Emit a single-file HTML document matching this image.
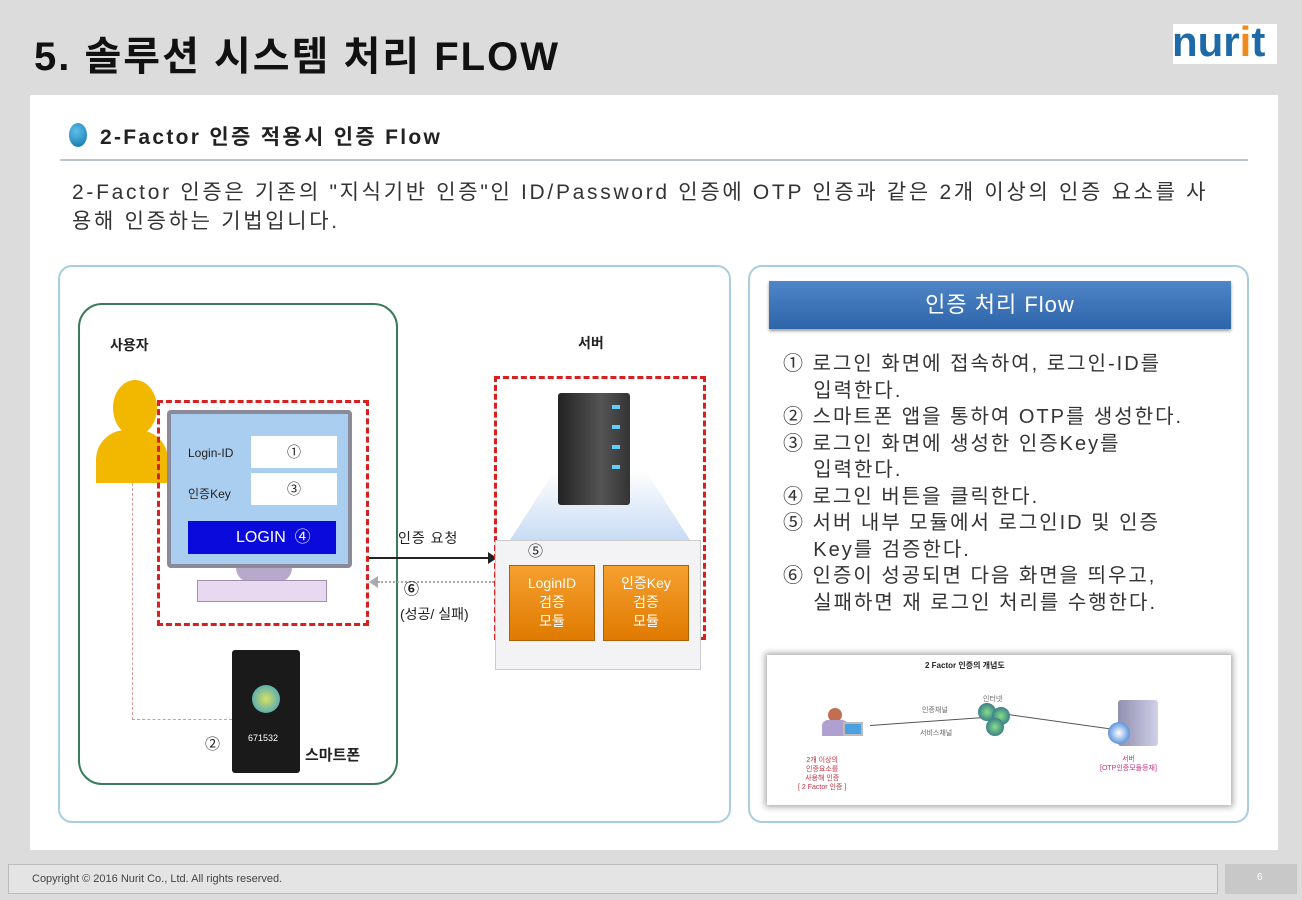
<!DOCTYPE html>
<html><head><meta charset="utf-8"><style>
*{margin:0;padding:0;box-sizing:border-box}
body{width:1302px;height:900px;background:#dcdcdc;position:relative;overflow:hidden;font-family:"Liberation Sans","Noto Sans CJK KR",sans-serif;color:#222}
.a{position:absolute}
.t{white-space:nowrap}
</style></head><body>
<div class="a t" style="left:34px;top:24px;font-size:40px;font-weight:bold;color:#111;letter-spacing:2px">5. 솔루션 시스템 처리 FLOW</div>
<div class="a" style="left:1173px;top:24px;width:104px;height:40px;background:#fff"></div>
<div class="a t" style="left:1172px;top:18px;font-size:42px;font-weight:bold;color:#1e6aa8;letter-spacing:0px">nur<span style="color:#f08a1c">i</span>t</div>
<div class="a" style="left:30px;top:95px;width:1248px;height:755px;background:#fff"></div>
<div class="a" style="left:69px;top:123px;width:18px;height:24px;border-radius:50%;background:radial-gradient(circle at 40% 35%,#5fc0e8,#0a6fa8)"></div>
<div class="a t" style="left:100px;top:121px;font-size:21px;font-weight:bold;color:#222;letter-spacing:2.3px">2-Factor 인증 적용시 인증 Flow</div>
<div class="a" style="left:60px;top:159px;width:1188px;height:2px;background:#b8c6cc"></div>
<div class="a t" style="left:72px;top:178px;font-size:21px;color:#333;line-height:29px;letter-spacing:2.7px">2-Factor 인증은 기존의 "지식기반 인증"인 ID/Password 인증에 OTP 인증과 같은 2개 이상의 인증 요소를 사<br>용해 인증하는 기법입니다.</div>

<div class="a" style="left:58px;top:265px;width:673px;height:558px;border:2px solid #a9cde0;border-radius:14px"></div>
<div class="a" style="left:748px;top:265px;width:501px;height:558px;border:2px solid #a9cde0;border-radius:14px"></div>

<div class="a" style="left:78px;top:303px;width:320px;height:482px;border:2px solid #3b7a5a;border-radius:24px"></div>
<div class="a t" style="left:110px;top:335px;font-size:14px;font-weight:bold">사용자</div>
<div class="a t" style="left:578px;top:333px;font-size:14px;font-weight:bold">서버</div>
<div class="a" style="left:113px;top:380px;width:44px;height:56px;border-radius:50%;background:#f2b800"></div>
<div class="a" style="left:96px;top:430px;width:72px;height:53px;border-radius:30px 30px 0 0;background:#f2b800"></div>
<div class="a" style="left:132px;top:483px;width:1px;height:237px;border-left:1px dashed #d99"></div>
<div class="a" style="left:132px;top:719px;width:100px;height:1px;border-top:1px dashed #d99"></div>
<div class="a" style="left:157px;top:400px;width:212px;height:226px;border:3px dashed #d82020"></div>
<div class="a" style="left:167px;top:410px;width:185px;height:158px;background:#aacef0;border:4px solid #8a8a9a;border-radius:4px"></div>
<div class="a t" style="left:188px;top:446px;font-size:12px">Login-ID</div>
<div class="a" style="left:251px;top:436px;width:86px;height:32px;background:#fff;text-align:center;line-height:32px;font-size:14px">①</div>
<div class="a t" style="left:188px;top:485px;font-size:12px">인증Key</div>
<div class="a" style="left:251px;top:473px;width:86px;height:32px;background:#fff;text-align:center;line-height:32px;font-size:14px">③</div>
<div class="a t" style="left:188px;top:521px;width:148px;height:33px;background:#0a0adc;color:#fff;font-size:16px;line-height:33px;padding-left:48px">LOGIN&nbsp;&nbsp;④</div>
<div class="a" style="left:236px;top:568px;width:56px;height:14px;background:#b8a8cc;border-radius:0 0 30px 30px"></div>
<div class="a" style="left:197px;top:580px;width:130px;height:22px;background:#e8d8f0;border:1px solid #a090b0"></div>
<div class="a" style="left:232px;top:650px;width:68px;height:123px;background:#1a1a1a;border-radius:3px"></div>
<div class="a" style="left:252px;top:685px;width:28px;height:28px;border-radius:50%;background:radial-gradient(#d8e060,#2a9ad0)"></div>
<div class="a t" style="left:248px;top:733px;font-size:9px;color:#fff">671532</div>
<div class="a t" style="left:205px;top:733px;font-size:15px">②</div>
<div class="a t" style="left:305px;top:744px;font-size:15px;font-weight:bold">스마트폰</div>
<div class="a" style="left:369px;top:557px;width:123px;height:2px;background:#222"></div>
<div class="a" style="left:488px;top:552px;width:0;height:0;border-left:9px solid #222;border-top:6px solid transparent;border-bottom:6px solid transparent"></div>
<div class="a t" style="left:398px;top:528px;font-size:14px;letter-spacing:1px">인증 요청</div>
<div class="a" style="left:378px;top:581px;width:116px;height:0;border-top:2px dotted #aaa"></div>
<div class="a" style="left:369px;top:576px;width:0;height:0;border-right:9px solid #aaa;border-top:6px solid transparent;border-bottom:6px solid transparent"></div>
<div class="a t" style="left:404px;top:578px;font-size:15px;font-weight:bold">⑥</div>
<div class="a t" style="left:400px;top:604px;font-size:14px">(성공/ 실패)</div>
<div class="a" style="left:494px;top:376px;width:212px;height:264px;border:3px dashed #d82020"></div>
<div class="a" style="left:510px;top:470px;width:180px;height:70px;background:linear-gradient(#fff,#c8dcf4);clip-path:polygon(25% 0,75% 0,100% 100%,0 100%)"></div>
<div class="a" style="left:558px;top:393px;width:72px;height:112px;background:linear-gradient(90deg,#222,#555 60%,#333);border-radius:3px"></div>
<div class="a" style="left:612px;top:405px;width:8px;height:4px;background:#6cf"></div>
<div class="a" style="left:612px;top:425px;width:8px;height:4px;background:#6cf"></div>
<div class="a" style="left:612px;top:445px;width:8px;height:4px;background:#6cf"></div>
<div class="a" style="left:612px;top:465px;width:8px;height:4px;background:#6cf"></div>
<div class="a" style="left:495px;top:540px;width:206px;height:130px;background:#f3f3f5;border:1px solid #ccc"></div>
<div class="a t" style="left:528px;top:540px;font-size:15px">⑤</div>
<div class="a" style="left:509px;top:565px;width:86px;height:76px;background:linear-gradient(#f5a030,#e07a00);border:1px solid #b06000;color:#fff;font-size:14px;text-align:center;line-height:19px;padding-top:8px">LoginID<br>검증<br>모듈</div>
<div class="a" style="left:603px;top:565px;width:86px;height:76px;background:linear-gradient(#f5a030,#e07a00);border:1px solid #b06000;color:#fff;font-size:14px;text-align:center;line-height:19px;padding-top:8px">인증Key<br>검증<br>모듈</div>

<div class="a" style="left:769px;top:281px;width:462px;height:48px;background:linear-gradient(#4f86c8,#2e64a8);color:#fff;font-size:22px;text-align:center;line-height:48px;box-shadow:0 2px 3px #999;letter-spacing:1px">인증 처리 Flow</div>
<div class="a t" style="left:783px;top:351px;font-size:20px;line-height:26.5px;color:#333;letter-spacing:2px">① 로그인 화면에 접속하여, 로그인-ID를<br>&nbsp;&nbsp;&nbsp;&nbsp;입력한다.<br>② 스마트폰 앱을 통하여 OTP를 생성한다.<br>③ 로그인 화면에 생성한 인증Key를<br>&nbsp;&nbsp;&nbsp;&nbsp;입력한다.<br>④ 로그인 버튼을 클릭한다.<br>⑤ 서버 내부 모듈에서 로그인ID 및 인증<br>&nbsp;&nbsp;&nbsp;&nbsp;Key를 검증한다.<br>⑥ 인증이 성공되면 다음 화면을 띄우고,<br>&nbsp;&nbsp;&nbsp;&nbsp;실패하면 재 로그인 처리를 수행한다.</div>
<div class="a" style="left:767px;top:655px;width:464px;height:150px;background:#fff;box-shadow:0 0 6px 2px #aaa"></div>
<div class="a t" style="left:925px;top:660px;font-size:8px;font-weight:bold">2 Factor 인증의 개념도</div>
<div class="a" style="left:828px;top:708px;width:14px;height:14px;border-radius:50%;background:#c07050"></div>
<div class="a" style="left:822px;top:720px;width:26px;height:16px;background:#b0a0d0;border-radius:6px 6px 0 0"></div>
<div class="a" style="left:843px;top:722px;width:20px;height:14px;background:#4aa0e0;border:2px solid #bbb"></div>
<div class="a" style="left:870px;top:725px;width:120px;height:1px;background:#555;transform:rotate(-4deg);transform-origin:left"></div>
<div class="a" style="left:1008px;top:714px;width:104px;height:1px;background:#555;transform:rotate(8deg);transform-origin:left"></div>
<div class="a" style="left:978px;top:703px;width:18px;height:18px;border-radius:50%;background:radial-gradient(#8d8,#1a5a8a)"></div>
<div class="a" style="left:992px;top:707px;width:18px;height:18px;border-radius:50%;background:radial-gradient(#8d8,#1a5a8a)"></div>
<div class="a" style="left:986px;top:718px;width:18px;height:18px;border-radius:50%;background:radial-gradient(#8d8,#1a5a8a)"></div>
<div class="a t" style="left:922px;top:705px;font-size:7px;color:#666">인증채널</div>
<div class="a t" style="left:920px;top:728px;font-size:7px;color:#666">서비스채널</div>
<div class="a t" style="left:983px;top:694px;font-size:7px;color:#666">인터넷</div>
<div class="a" style="left:1118px;top:700px;width:40px;height:46px;background:linear-gradient(90deg,#9090b0,#d0d0e8);border-radius:3px"></div>
<div class="a" style="left:1108px;top:722px;width:22px;height:22px;border-radius:50%;background:radial-gradient(#fff,#1a6ad0)"></div>
<div class="a t" style="left:798px;top:756px;font-size:7px;color:#c03040;text-align:center;line-height:9px">2개 이상의<br>인증요소를<br>사용해 인증<br>[ 2 Factor 인증 ]</div>
<div class="a t" style="left:1100px;top:755px;font-size:7px;color:#c03080;text-align:center;line-height:9px">서버<br>[OTP인증모듈등재]</div>

<div class="a" style="left:8px;top:864px;width:1210px;height:30px;background:#e4e4e4;border:1px solid #bbb"></div>
<div class="a t" style="left:32px;top:873px;font-size:11px;color:#444">Copyright © 2016 Nurit Co., Ltd. All rights reserved.</div>
<div class="a" style="left:1225px;top:864px;width:72px;height:30px;background:#c8c8c8"></div>
<div class="a t" style="left:1257px;top:872px;font-size:10px;color:#fff">6</div>
</body></html>
